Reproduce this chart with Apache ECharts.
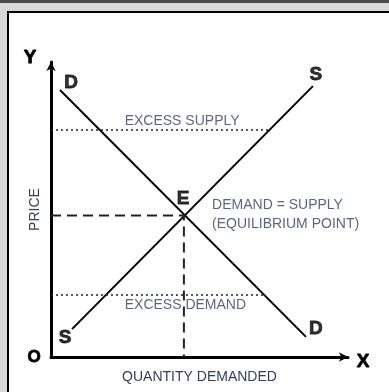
<!DOCTYPE html>
<html>
<head>
<meta charset="utf-8">
<script src="https://cdn.jsdelivr.net/npm/echarts@6/dist/echarts.min.js"></script>
<style>
  html, body { margin: 0; padding: 0; background: #fff; }
  #chart { width: 389px; height: 392px; }
</style>
</head>
<body>
<div id="chart"></div>
<script>
// curve end points (quantity, price)
const demandCurve = [[0.3, 8.9], [8.5, 0.67]];
const supplyCurve = [[0.7, 0.93], [8.73, 9.03]];
const equilibrium = [4.43, 4.72];
const excessSupplyLine = [[0, 7.57], [7.28, 7.57]];
const excessDemandLine = [[0, 2.07], [7.1, 2.07]];

// curve letters
const curveLetters = [
  { name: "D", value: [0.67, 9.13] },
  { name: "S", value: [8.83, 9.4] },
  { name: "S", value: [0.47, 0.63] },
  { name: "D", value: [8.83, 0.93] },
  { name: "E", value: [4.4, 5.27] }
];
// notes
const centerNotes = [
  { name: "EXCESS SUPPLY", value: [4.37, 7.87] },
  { name: "EXCESS DEMAND", value: [4.48, 1.73] }
];
const leftNotes = [
  { name: "DEMAND = SUPPLY", value: [5.37, 5.07] },
  { name: "(EQUILIBRIUM POINT)", value: [5.37, 4.43] }
];

const textColor = "#33405a";
const font = "Liberation Sans, Arial, sans-serif";

const chart = echarts.init(document.getElementById("chart"), null, { renderer: "canvas" });

chart.setOption({
  animation: false,
  backgroundColor: "#fff",
  grid: { left: 51, top: 62, width: 297, height: 295 },
  xAxis: {
    type: "value",
    min: 0,
    max: 9.9,
    name: "QUANTITY DEMANDED",
    nameLocation: "middle",
    nameGap: 13,
    nameTextStyle: { color: textColor, fontSize: 14, fontFamily: font, verticalAlign: "top" },
    axisLine: { lineStyle: { color: "#000", width: 3 }, symbol: ["none", "arrow"], symbolSize: [7, 9] },
    axisTick: { show: false },
    axisLabel: { show: false },
    splitLine: { show: false }
  },
  yAxis: {
    type: "value",
    min: 0,
    max: 9.8333,
    name: "PRICE",
    nameLocation: "middle",
    nameGap: 9,
    nameRotate: 90,
    nameTextStyle: { color: textColor, fontSize: 14, fontFamily: font, verticalAlign: "bottom" },
    axisLine: { lineStyle: { color: "#000", width: 3 }, symbol: ["none", "arrow"], symbolSize: [7, 9] },
    axisTick: { show: false },
    axisLabel: { show: false },
    splitLine: { show: false }
  },
  graphic: [
    // frame
    { type: "rect", shape: { x: 0, y: 0, width: 389, height: 3 }, style: { fill: "#4a4a4a" }, z: 100 },
    { type: "rect", shape: { x: 0, y: 3, width: 389, height: 8 }, style: { fill: "#d9d9d9" }, z: 100 },
    { type: "rect", shape: { x: 0, y: 3, width: 7, height: 389 }, style: { fill: "#d9d9d9" }, z: 100 },
    { type: "rect", shape: { x: 7, y: 11, width: 382, height: 2 }, style: { fill: "#000" }, z: 100 },
    { type: "rect", shape: { x: 7, y: 11, width: 2, height: 381 }, style: { fill: "#000" }, z: 100 },
    // axis letters
    { type: "text", x: 30, y: 58, style: { text: "Y", fill: "#000", font: "bold 19px " + font, align: "center", verticalAlign: "middle", stroke: "#000", lineWidth: 0.8 } },
    { type: "text", x: 34, y: 357, style: { text: "O", fill: "#000", font: "bold 17px " + font, align: "center", verticalAlign: "middle", stroke: "#000", lineWidth: 0.8 } },
    { type: "text", x: 363, y: 362, style: { text: "X", fill: "#000", font: "bold 19px " + font, align: "center", verticalAlign: "middle", stroke: "#000", lineWidth: 0.8 } }
  ],
  series: [
    {
      type: "line", data: demandCurve, symbol: "none",
      lineStyle: { color: "#000", width: 2 }
    },
    {
      type: "line", data: supplyCurve, symbol: "none",
      lineStyle: { color: "#000", width: 2 }
    },
    {
      type: "line", data: excessSupplyLine, symbol: "none",
      lineStyle: { color: "#222", width: 1.5, type: [2, 3] }
    },
    {
      type: "line", data: excessDemandLine, symbol: "none",
      lineStyle: { color: "#222", width: 1.5, type: [2, 3] }
    },
    {
      type: "line", data: [[0, equilibrium[1]], equilibrium, [equilibrium[0], 0]], symbol: "none",
      lineStyle: { color: "#222", width: 2, type: [10, 6] }
    },
    {
      type: "scatter", data: curveLetters, symbolSize: 0,
      label: {
        show: true, position: "inside", formatter: "{b}",
        color: "#000", fontSize: 19, fontWeight: "bold", fontFamily: font,
        textBorderColor: "#000", textBorderWidth: 0.8
      }
    },
    {
      type: "scatter", data: centerNotes, symbolSize: 0,
      label: {
        show: true, position: "inside", formatter: "{b}",
        color: textColor, fontSize: 14, fontFamily: font
      }
    },
    {
      type: "scatter", data: leftNotes, symbolSize: 0,
      label: {
        show: true, position: "right", distance: 0, formatter: "{b}",
        color: textColor, fontSize: 14, fontFamily: font
      }
    }
  ]
});
</script>
</body>
</html>
